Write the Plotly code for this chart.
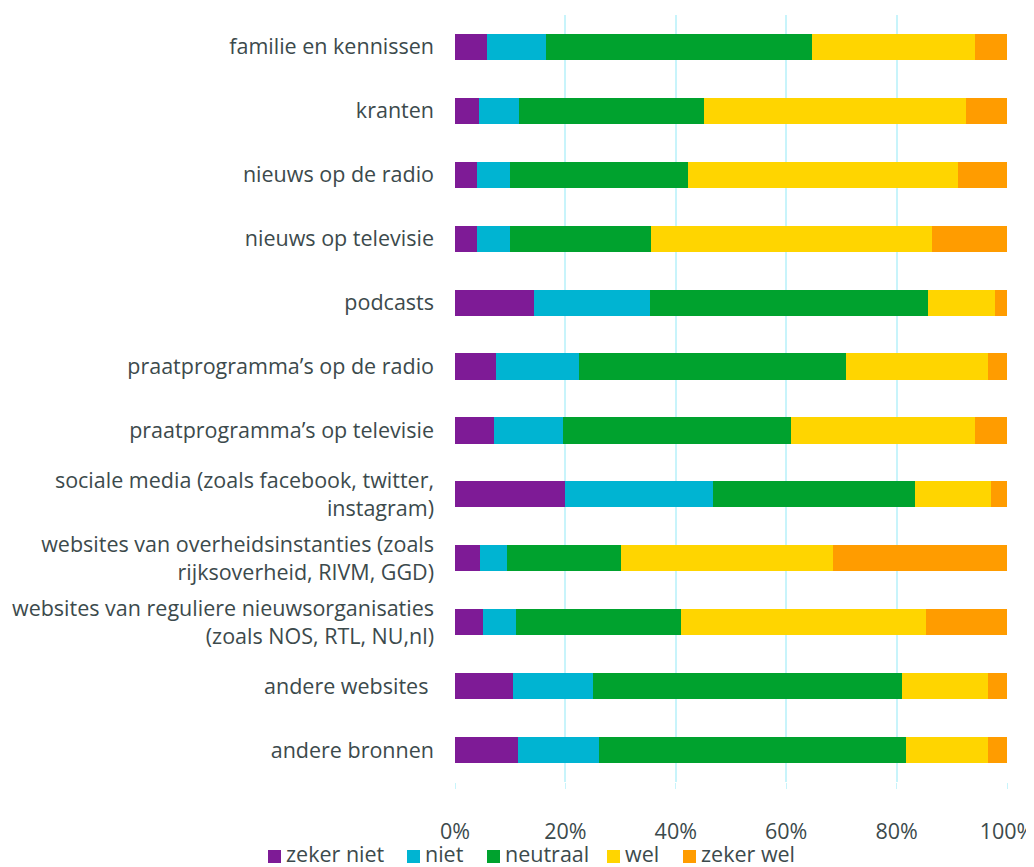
import plotly.graph_objects as go

categories = [
    "familie en kennissen",
    "kranten",
    "nieuws op de radio",
    "nieuws op televisie",
    "podcasts",
    "praatprogramma’s op de radio",
    "praatprogramma’s op televisie",
    "sociale media (zoals facebook, twitter,<br>instagram)",
    "websites van overheidsinstanties (zoals<br>rijksoverheid, RIVM, GGD)",
    "websites van reguliere nieuwsorganisaties<br>(zoals NOS, RTL, NU,nl)",
    "andere websites ",
    "andere bronnen",
]

zeker_niet = [5.8, 4.3, 4.0, 4.0, 14.3, 7.4, 7.1, 19.9, 4.5, 5.1, 10.5, 11.4]
niet = [10.7, 7.3, 6.0, 6.0, 21.0, 15.1, 12.5, 26.8, 4.9, 6.0, 14.5, 14.7]
neutraal = [48.2, 33.5, 32.2, 25.5, 50.4, 48.3, 41.3, 36.6, 20.7, 29.8, 56.0, 55.6]
wel = [29.5, 47.5, 48.9, 50.9, 12.1, 25.8, 33.3, 13.8, 38.4, 44.4, 15.6, 14.9]
zeker_wel = [5.8, 7.4, 8.9, 13.6, 2.2, 3.4, 5.8, 2.9, 31.5, 14.7, 3.4, 3.4]

series = [
    ("zeker niet", zeker_niet, "#7e1b96"),
    ("niet", niet, "#00b4d2"),
    ("neutraal", neutraal, "#00a22e"),
    ("wel", wel, "#ffd500"),
    ("zeker wel", zeker_wel, "#ff9c00"),
]

TEXT = "#3c4a4c"
GRID = "#c8f4fb"
FONT_SIZE = 21.5

W, H = 1034, 867
M = dict(l=447, r=35, t=7, b=93)  # page body adds 8px left/top
PLOT_W = W - M["l"] - M["r"]
PLOT_H = H - M["t"] - M["b"]

# legend drawn by hand so it sits tight like the original (pixel positions)
LEGEND_LEFT = [260, 399, 479, 599, 675]
LEGEND_TOP, LEGEND_BOX = 842, 13


def px_x(px):
    return (px - M["l"]) / PLOT_W


def px_y(py):
    return 1 - (py - M["t"]) / PLOT_H


fig = go.Figure()
for name, vals, color in series:
    fig.add_trace(
        go.Bar(
            y=categories,
            x=[v / 100 for v in vals],
            name=name,
            orientation="h",
            marker=dict(color=color, line=dict(width=0)),
        )
    )

for (name, _, color), left in zip(series, LEGEND_LEFT):
    fig.add_shape(
        type="rect",
        xref="paper",
        yref="paper",
        x0=px_x(left),
        x1=px_x(left + LEGEND_BOX),
        y0=px_y(LEGEND_TOP + LEGEND_BOX),
        y1=px_y(LEGEND_TOP),
        fillcolor=color,
        line=dict(width=0),
    )
    fig.add_annotation(
        text=name,
        xref="paper",
        yref="paper",
        x=px_x(left + 16),
        y=px_y(LEGEND_TOP + 4),
        xanchor="left",
        yanchor="middle",
        showarrow=False,
        font=dict(size=FONT_SIZE, color=TEXT),
    )

fig.update_layout(
    barmode="stack",
    bargap=0.59,
    width=W,
    height=H,
    plot_bgcolor="white",
    paper_bgcolor="white",
    font=dict(family="Open Sans", size=FONT_SIZE, color=TEXT),
    margin=M,
    showlegend=False,
)
fig.update_xaxes(
    automargin=False,
    range=[0, 1],
    tickvals=[0, 0.2, 0.4, 0.6, 0.8, 1.0],
    tickformat=".0%",
    showgrid=True,
    gridcolor=GRID,
    gridwidth=1.5,
    zeroline=False,
    ticks="outside",
    tickcolor=GRID,
    ticklen=6,
    ticklabelstandoff=24,
    tickfont=dict(size=FONT_SIZE, color=TEXT),
)
fig.update_yaxes(
    automargin=False,
    categoryorder="array",
    categoryarray=categories,
    autorange="reversed",
    showgrid=False,
    ticks="",
    ticklabelstandoff=20,
    tickfont=dict(size=FONT_SIZE, color=TEXT),
)

fig.write_html("out.html")
